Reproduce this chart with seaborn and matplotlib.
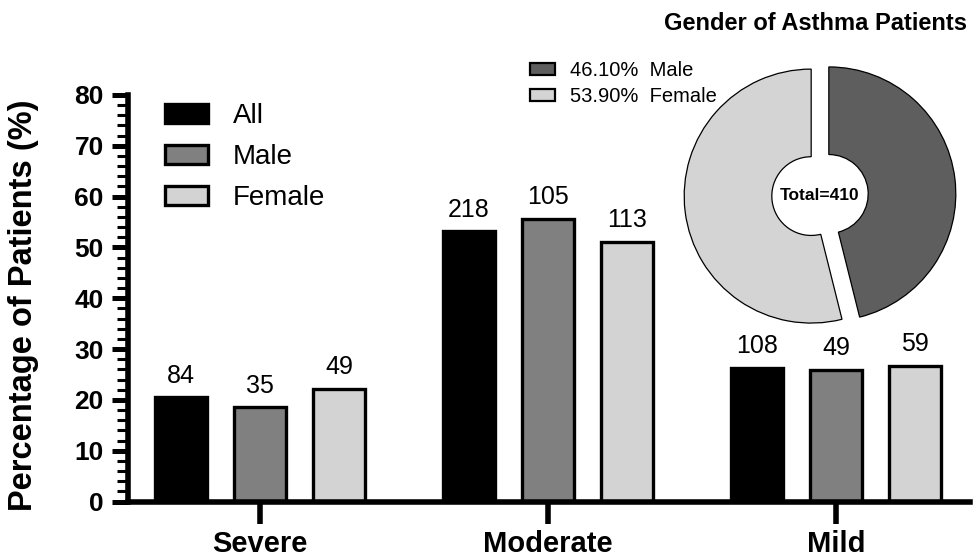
import matplotlib
matplotlib.use("Agg")
import matplotlib.pyplot as plt
from matplotlib.patches import Patch
from matplotlib.ticker import MultipleLocator
import seaborn as sns
import pandas as pd

# ---- data -------------------------------------------------------------
severity = ["Severe", "Moderate", "Mild"]
groups = ["All", "Male", "Female"]
count_all = [84, 218, 108]
count_male = [35, 105, 49]
count_female = [49, 113, 59]
group_totals = [410, 189, 221]
bar_colors = ["#000000", "#808080", "#d3d3d3"]

pie_labels = ["Male", "Female"]
pie_counts = [189, 221]
pie_pct = [46.10, 53.90]
pie_colors = ["#5e5e5e", "#d4d4d4"]
pie_total = 410

rows = []
for g, counts, tot in zip(groups, [count_all, count_male, count_female], group_totals):
    for s, c in zip(severity, counts):
        rows.append({"Severity": s, "Group": g, "Count": c, "Percent": 100.0 * c / tot})
df = pd.DataFrame(rows)

# ---- style ------------------------------------------------------------
sns.set_theme(style="white")
plt.rcParams["font.family"] = ["Liberation Sans", "DejaVu Sans"]
plt.rcParams.update({
    "text.color": "black",
    "axes.labelcolor": "black",
    "xtick.color": "black",
    "ytick.color": "black",
})

fig = plt.figure(figsize=(9.73, 5.58), dpi=100)

# ---- grouped bar chart -----------------------------------------------
ax = fig.add_axes([128 / 973, 56.5 / 558, 842 / 973, 406.5 / 558])
sns.barplot(
    data=df, x="Severity", y="Percent", hue="Group",
    order=severity, hue_order=groups, palette=bar_colors,
    width=0.822, gap=0.34, edgecolor="black", linewidth=2.4,
    saturation=1, errorbar=None, legend=False, ax=ax,
)

for cont, g in zip(ax.containers, groups):
    counts = df[df["Group"] == g].set_index("Severity").loc[severity, "Count"]
    ax.bar_label(cont, labels=[str(c) for c in counts], padding=7, fontsize=18,
                 color="black")

ax.set_xlim(-0.458, 2.465)
ax.set_ylim(0, 80)
for side in ("top", "right"):
    ax.spines[side].set_visible(False)
for side in ("left", "bottom"):
    ax.spines[side].set_linewidth(4)
    ax.spines[side].set_color("black")

ax.set_yticks(range(0, 81, 10))
ax.set_yticklabels([str(v) for v in range(0, 81, 10)], fontsize=19, fontweight="bold")
ax.yaxis.set_minor_locator(MultipleLocator(2))
ax.tick_params(axis="y", which="major", left=True, length=11.4, width=3.6,
               color="black", labelcolor="black", pad=6)
ax.tick_params(axis="y", which="minor", left=True, length=7.8, width=2.2, color="black")

ax.set_xticks(range(len(severity)))
ax.set_xticklabels(severity, fontsize=21, fontweight="bold")
ax.tick_params(axis="x", which="major", bottom=True, length=16, width=4,
               color="black", labelcolor="black", pad=4.5)
ax.set_xlabel("")

ax.set_ylabel("Percentage of Patients (%)", fontsize=23.5, fontweight="bold",
              color="black")
ax.yaxis.set_label_coords(-0.106, 0.483)

handles = [Patch(facecolor=c, edgecolor="black", linewidth=2.4) for c in bar_colors]
ax.legend(
    handles, groups, loc="upper left",
    bbox_to_anchor=(165 / 973, 1 - 103 / 558), bbox_transform=fig.transFigure,
    frameon=False, fontsize=20, handlelength=1.55, handleheight=0.65,
    handletextpad=0.9, labelspacing=0.54, borderpad=0, borderaxespad=0,
    labelcolor="black",
)

# ---- donut chart ------------------------------------------------------
ax2 = fig.add_axes([(820 - 160) / 973, (558 - 195 - 160) / 558, 320 / 973, 320 / 558])
wedges, _ = ax2.pie(
    pie_counts, colors=pie_colors, startangle=90, counterclock=False,
    explode=[0.07, 0.07], radius=1,
    wedgeprops=dict(width=0.69, edgecolor="black", linewidth=0.9),
)
ax2.set_xlim(-1.26, 1.26)
ax2.set_ylim(-1.26, 1.26)
ax2.set_aspect("equal")
ax2.axis("off")
ax2.text(0, 0, f"Total={pie_total}", ha="center", va="center",
         fontsize=12.5, fontweight="bold", color="black")

pie_handles = [Patch(facecolor=c, edgecolor="black", linewidth=1.6) for c in pie_colors]
pie_texts = [f"{p:.2f}%  {lab}" for p, lab in zip(pie_pct, pie_labels)]
fig.legend(
    pie_handles, pie_texts, loc="upper left",
    bbox_to_anchor=(530 / 973, 1 - 61 / 558),
    frameon=False, fontsize=14.5, handlelength=1.25, handleheight=0.55,
    handletextpad=0.75, labelspacing=0.36, borderpad=0, borderaxespad=0,
    labelcolor="black",
)

fig.text(816 / 973, 1 - 24 / 558, "Gender of Asthma Patients",
         ha="center", va="center", fontsize=17, fontweight="bold", color="black")

fig.savefig("out.png", dpi=100)
